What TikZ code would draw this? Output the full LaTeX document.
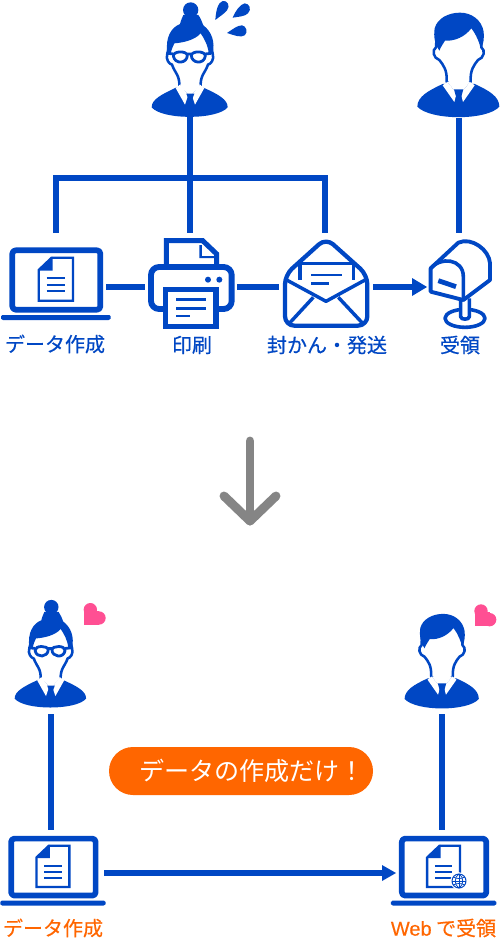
\documentclass[tikz,border=0pt]{standalone}
\usepackage{fontspec}
\newfontfamily\cjk[FakeBold=0.45]{Noto Sans CJK JP}
\newfontfamily\cjkr{Noto Sans CJK JP}
\newfontfamily\latn[FakeBold=0.3]{Liberation Sans}
\definecolor{iconblue}{HTML}{0047C4}
\definecolor{accent}{HTML}{FF6600}
\definecolor{pinkheart}{HTML}{FF4F93}
\definecolor{arrowgray}{HTML}{858585}
\tikzset{
  wire/.style={draw=iconblue,line width=4.5pt},
  lbl/.style={font=\cjk\fontsize{15}{15}\selectfont,text=iconblue,inner sep=0pt,anchor=center},
  lblo/.style={lbl,text=accent},
  ink/.style={draw=iconblue,line join=round},
  paper/.style={ink,fill=white},
  womanpic/.pic={
    \fill[iconblue] (65,322) .. controls (65,298) and (95,283) .. (140,262) -- (218,262) .. controls (265,283) and (293,298) .. (293,322) .. controls (262,360) and (96,360) .. (65,322) -- cycle;
    \draw[paper,line width=1.9pt] (120,130) -- (112,160) .. controls (106,180) and (118,192) .. (126,194) .. controls (135,220) and (150,225) .. (148,262) -- (180,290) -- (212,262) .. controls (210,225) and (225,220) .. (234,194) .. controls (242,192) and (254,180) .. (248,160) -- (240,130);
    \fill[white] (137,264) -- (165,314) -- (175,284) -- (150,254) -- cycle;
    \fill[white] (223,264) -- (195,314) -- (185,284) -- (210,254) -- cycle;
    \fill[white] (150,254) -- (210,254) -- (185,284) -- (175,284) -- cycle;
    \fill[iconblue] (169,281) -- (193,281) -- (187,297) -- (192,330) -- (168,330) -- (175,297) -- cycle;
    \fill[iconblue] (182,30) circle (23);
    \fill[iconblue] (112,160) .. controls (105,110) and (125,82) .. (150,72) .. controls (153,60) and (157,52) .. (160,45) -- (205,45) .. controls (212,55) and (216,65) .. (220,76) .. controls (245,95) and (256,125) .. (248,162) -- (236,160) .. controls (234,135) and (222,115) .. (212,100) .. controls (195,120) and (160,128) .. (133,130) .. controls (128,140) and (124,150) .. (122,162) -- cycle;
    \draw[paper,line width=2.1pt] (130,168) .. controls (130,152) and (170,152) .. (172,166) .. controls (172,190) and (135,195) .. (130,168) -- cycle;
    \draw[paper,line width=2.1pt] (184,166) .. controls (186,152) and (226,152) .. (226,168) .. controls (222,195) and (184,190) .. (184,166) -- cycle;
    \draw[ink,line width=2.1pt] (172,162) -- (184,162) (226,162) -- (244,160) (130,162) -- (114,160);
  },
  manpic/.pic={
    \fill[iconblue] (52,320) .. controls (52,290) and (85,272) .. (128,252) -- (224,252) .. controls (268,272) and (298,290) .. (298,320) .. controls (262,362) and (90,362) .. (52,320) -- cycle;
    \draw[paper,line width=1.9pt] (110,110) -- (108,142) .. controls (95,150) and (100,175) .. (118,180) .. controls (130,195) and (142,210) .. (140,245) -- (176,282) -- (212,245) .. controls (210,210) and (222,195) .. (234,180) .. controls (252,175) and (257,150) .. (244,142) -- (242,110);
    \fill[white] (128,256) -- (163,306) -- (170,280) -- (142,246) -- cycle;
    \fill[white] (224,256) -- (189,306) -- (182,280) -- (210,246) -- cycle;
    \fill[white] (142,246) -- (210,246) -- (182,280) -- (170,280) -- cycle;
    \fill[iconblue] (162,268) -- (190,268) -- (184,290) -- (190,328) -- (162,328) -- (168,290) -- cycle;
    \fill[iconblue] (118,152) .. controls (105,135) and (100,110) .. (104,85) .. controls (112,55) and (145,38) .. (180,38) .. controls (215,38) and (245,60) .. (251,95) .. controls (253,115) and (250,130) .. (244,148) .. controls (238,130) and (230,105) .. (214,85) .. controls (195,110) and (165,124) .. (135,122) .. controls (130,130) and (123,140) .. (118,152) -- cycle;
  },
  laptoppic/.pic={
    \draw[ink,line width=4.3pt,rounded corners=2.5pt,fill=white] (37,61) rectangle (301,239);
    \fill[iconblue,rounded corners=1pt] (3,255) -- (332,255) -- (332,262) .. controls (332,268) and (328,270) .. (322,270) -- (13,270) .. controls (7,270) and (3,268) .. (3,262) -- cycle;
    \draw[paper,line width=1.7pt,line join=miter] (155,83) -- (219,83) -- (219,212) -- (116,212) -- (116,120) -- cycle;
    \fill[iconblue] (158,80) -- (158,122) -- (116,122) -- cycle;
    \draw[ink,line width=1.5pt] (140,145) -- (195,145) (140,165) -- (195,165) (140,184) -- (195,184);
  },
}
\begin{document}
\begin{tikzpicture}[x=0.75pt,y=-0.75pt]
\useasboundingbox (0,0) rectangle (500,938);
\fill[white] (0,0) rectangle (500,938);
% top persons
\pic[shift={(130,0)},scale=1/3] {womanpic};
\begin{scope}[shift={(130,0)},scale=1/3]
  \fill[iconblue] (256,60) .. controls (258,30) and (264,8) .. (278,3) .. controls (292,0) and (302,18) .. (291,31) .. controls (282,42) and (268,50) .. (256,60) -- cycle;
  \fill[iconblue] (308,53) .. controls (318,30) and (330,14) .. (344,10) .. controls (358,10) and (366,28) .. (354,40) .. controls (344,50) and (325,50) .. (308,53) -- cycle;
  \fill[iconblue] (291,99) .. controls (308,88) and (322,76) .. (336,76) .. controls (350,78) and (354,98) .. (344,106) .. controls (334,114) and (312,106) .. (291,99) -- cycle;
\end{scope}
\pic[shift={(400,0)},scale=1/3] {manpic};
% laptop top
\pic[shift={(0,230)},scale=1/3] {laptoppic};
% printer
\begin{scope}[shift={(0,230)},scale=1/3]
  \draw[paper,line width=3.8pt,line join=miter] (499,110) -- (499,32) -- (608,32) -- (650,72) -- (650,110);
  \fill[iconblue] (598,45) -- (598,84) -- (645,84) -- (645,78) -- (606,78) -- (606,45) -- cycle;
  \draw[paper,line width=4.4pt,rounded corners=6pt] (453,111) rectangle (695,237);
  \fill[iconblue] (624,149) circle (9) (658,149) circle (9);
  \draw[paper,line width=3.8pt,line join=miter] (497,179) rectangle (648,290);
  \draw[ink,line width=2pt] (528,208) -- (618,208) (528,235) -- (618,235) (528,258) -- (570,258);
\end{scope}
% envelope
\begin{scope}[shift={(250,230)},scale=1/3]
  \draw[paper,line width=3.2pt,rounded corners=7pt] (105,135) -- (105,287) -- (352,287) -- (352,135) -- (228,24) -- cycle;
  \draw[paper,line width=2.6pt,line join=miter] (150,165) -- (150,100) -- (310,100) -- (310,165);
  \draw[paper,line width=2.6pt] (110,150) -- (228,214) -- (345,150);
  \draw[ink,line width=2.6pt] (118,280) -- (190,202) (338,280) -- (265,202);
  \draw[ink,line width=1.9pt] (183,135) -- (275,135) (183,160) -- (238,160);
\end{scope}
% mailbox
\begin{scope}[shift={(250,230)},scale=1/3]
  \draw[ink,line width=2.7pt] (645,265) ellipse (60 and 27);
  \draw[paper,line width=2.7pt] (632,205) -- (632,260) .. controls (632,270) and (658,270) .. (658,260) -- (658,205);
  \draw[paper,line width=2.9pt] (542,115) -- (625,38) .. controls (665,20) and (718,60) .. (720,100) -- (720,150) -- (640,210) -- (542,185) -- cycle;
  \draw[ink,line width=2.7pt] (542,115) .. controls (570,80) and (640,85) .. (640,140) -- (640,210);
  \draw[ink,line width=3.6pt] (565,152) -- (618,170);
\end{scope}
% connector anchors
\coordinate (womanA) at (190,117);
\coordinate (manA) at (459,118);
\coordinate (laptopA) at (56,233);
\coordinate (printerA) at (190,233);
\coordinate (envA) at (325,233);
\coordinate (boxA) at (459,233);
\coordinate (branchL) at (56,178);
\coordinate (branchR) at (325,178);
\coordinate (laptopR) at (106,287);
\coordinate (printerL) at (145,287);
\coordinate (printerR) at (237,287);
\coordinate (envL) at (279,287);
\coordinate (envR) at (373,287);
\coordinate (boxL) at (412,287);
\coordinate (boxTip) at (427,287);
\draw[wire] (womanA) -- (printerA);
\draw[wire,line join=miter] (laptopA) -- (branchL) -- (branchR) -- (envA);
\draw[wire] (manA) -- (boxA);
\draw[wire] (laptopR) -- (printerL);
\draw[wire] (printerR) -- (envL);
\draw[wire] (envR) -- (boxL);
\fill[iconblue] (412,278) -- (boxTip) -- (412,296) -- cycle;
% labels top
\node[lbl] (l1) at (55,344) {データ作成};
\node[lbl] (l2) at (192,345) {印刷};
\node[lbl] (l3) at (327,345) {封かん・発送};
\node[lbl] (l4) at (460,345) {受領};
% gray arrow
\coordinate (gA) at (250,441);
\coordinate (gB) at (250,521);
\coordinate (gL) at (224,496);
\coordinate (gR) at (276,496);
\draw[draw=arrowgray,line width=6.7pt,line cap=round] (gA) -- (gB);
\draw[draw=arrowgray,line width=6.7pt,line cap=round,line join=round] (gL) -- (gB) -- (gR);
% lower persons
\pic[shift={(-5.7,597.7)},scale=0.3133] {womanpic};
\pic[shift={(388.9,602.4)},scale=0.3017] {manpic};
% hearts
\begin{scope}[shift={(0,590)},scale=1/3]
  \fill[pinkheart] (252,62) -- (252,104) -- (298,104) -- (298,62) -- cycle;
  \fill[pinkheart] (271,59) circle (20) (297,84) circle (20);
\end{scope}
\begin{scope}[shift={(380,590)},scale=1/3]
  \fill[pinkheart] (284,65) -- (284,108) -- (330,108) -- (330,65) -- cycle;
  \fill[pinkheart] (303,63) circle (20) (329,89) circle (20);
\end{scope}
% lower laptops
\pic[shift={(-0.7,819.1)},scale=0.32] {laptoppic};
\pic[shift={(390,819.1)},scale=0.32] {laptoppic};
% globe
\begin{scope}[shift={(380,825)},scale=1/3]
  \fill[white] (237,168) circle (26);
  \draw[ink,line width=0.75pt,fill=white] (237,168) circle (21);
  \draw[ink,line width=0.6pt] (216,168) -- (258,168) (237,147) -- (237,189);
  \draw[ink,line width=0.6pt] (237,147) .. controls (222,155) and (222,181) .. (237,189);
  \draw[ink,line width=0.6pt] (237,147) .. controls (252,155) and (252,181) .. (237,189);
  \draw[ink,line width=0.6pt] (220,156) .. controls (230,162) and (244,162) .. (254,156);
  \draw[ink,line width=0.6pt] (220,180) .. controls (230,174) and (244,174) .. (254,180);
\end{scope}
% lower connectors
\coordinate (wA2) at (51,714);
\coordinate (lapA2) at (51,830);
\coordinate (mA2) at (442,714);
\coordinate (lapB2) at (442,830);
\coordinate (lapR2) at (104,873);
\coordinate (lapL2) at (385,873);
\coordinate (lapTip) at (396,873);
\draw[wire] (wA2) -- (lapA2);
\draw[wire] (mA2) -- (lapB2);
\draw[wire] (lapR2) -- (lapL2);
\fill[iconblue] (382,865) -- (lapTip) -- (382,881) -- cycle;
% pill
\node[fill=accent,rounded corners=18pt,minimum width=198pt,minimum height=36pt,inner sep=0pt] (pill) at (241,771) {};
\node[font=\cjkr\fontsize{18.8}{18.8}\selectfont,text=white,inner sep=0pt,anchor=west] (pilltext) at (139,771) {データの作成だけ！};
% lower labels
\node[lblo] (l5) at (53,928) {データ作成};
\node[lblo] (l6) at (443.5,928) {{\latn Web} で受領};
\end{tikzpicture}
\end{document}
